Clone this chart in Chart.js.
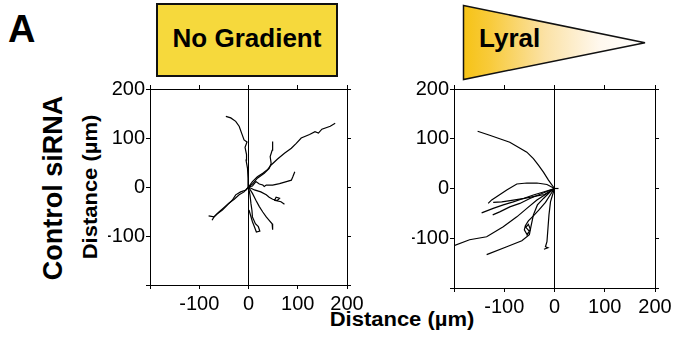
<!DOCTYPE html>
<html>
<head>
<meta charset="utf-8">
<script src="https://cdn.jsdelivr.net/npm/chart.js@4.4.0/dist/chart.umd.min.js"></script>
<style>
  body { margin: 0; width: 673px; height: 347px; position: relative; overflow: hidden; background: #fff;
    font-family: 'Liberation Sans', Arial, sans-serif; color: #000; }
  .lbl { position: absolute; white-space: nowrap; line-height: 1; font-weight: bold; }
  canvas { position: absolute; }
</style>
</head>
<body>
<div class="lbl" style="left:8px;top:10px;font-size:38px;">A</div>
<div style="position:absolute;left:156px;top:3px;width:182px;height:74px;box-sizing:border-box;border:2px solid #111;background:#F6D93C;"></div>
<div class="lbl" style="left:156px;top:24.5px;width:182px;text-align:center;font-size:26px;">No Gradient</div>
<svg style="position:absolute;left:0;top:0" width="673" height="90">
  <defs>
    <linearGradient id="lyralFill" x1="0" y1="0" x2="1" y2="0">
      <stop offset="0" stop-color="#F6C316"/>
      <stop offset="0.15" stop-color="#F8CB3C"/>
      <stop offset="0.45" stop-color="#FBE2A6"/>
      <stop offset="0.75" stop-color="#FFF8EE"/>
      <stop offset="1" stop-color="#FFFFFF"/>
    </linearGradient>
  </defs>
  <polygon points="463.5,5.5 645,42.7 463.5,79.5" fill="url(#lyralFill)" stroke="#111" stroke-width="1.5"/>
</svg>
<div class="lbl" style="left:479px;top:24.5px;font-size:26px;">Lyral</div>
<div class="lbl" style="left:53px;top:187.5px;font-size:27px;transform:translate(-50%,-50%) rotate(-90deg);">Control siRNA</div>
<div class="lbl" style="left:90px;top:187px;font-size:20px;transform:translate(-50%,-50%) rotate(-90deg) scaleX(1.1);">Distance (µm)</div>
<div class="lbl" style="left:402px;top:319px;font-size:20px;transform:translate(-50%,-50%) scaleX(1.1);">Distance (µm)</div>

<canvas id="noGradientChart" width="266" height="247" style="left:108px;top:72px"></canvas>
<canvas id="lyralChart" width="270" height="250" style="left:412px;top:72px"></canvas>

<script>
// cell tracks, x/y distance in µm from the start point
const tickValues = [-200, -100, 0, 100, 200];

// No Gradient panel
const ngTrack1 = [[0, 0], [-1, 18], [-2, 38], [-5, 55], [-4, 66], [-7, 81], [-3, 92], [-9, 96], [-14, 110], [-19, 124], [-26, 134], [-36, 141], [-46, 144]];
const ngTrack2 = [[0, 0], [8, 11], [18, 21], [29, 28], [39, 36], [46, 45], [59, 57], [73, 69], [87, 79], [97, 89], [107, 100], [124, 107], [135, 113], [142, 110], [149, 118], [166, 124], [176, 130]];
const ngTrack3 = [[0, 0], [8, 6], [18, 18], [32, 28], [42, 38], [46, 48], [44, 62], [48, 75], [49, 93]];
const ngTrack4 = [[0, 0], [8, 2], [15, 11], [22, 6], [29, 4], [32, 1], [36, 4], [49, 4], [63, 7], [77, 11], [87, 14], [90, 21], [94, 31]];
const ngTrack5 = [[0, 0], [12, -6], [25, -10], [36, -16], [42, -21], [49, -25], [59, -27], [63, -23], [56, -21], [53, -27], [66, -30], [73, -35]];
const ngTrack6 = [[0, 0], [8, -13], [15, -27], [22, -40], [29, -51], [36, -61], [42, -68], [48, -75], [49, -87]];
const ngTrack7 = [[0, 0], [3, -16], [5, -34], [7, -48], [8, -61], [14, -75], [20, -81], [23, -90], [16, -92], [12, -81], [8, -71], [1, -47]];
const ngTrack8 = [[0, 0], [-9, -10], [-19, -16], [-29, -25], [-40, -33], [-50, -42], [-60, -51], [-70, -61], [-74, -68]];
const ngTrack9 = [[0, 0], [-5, -6], [-16, -10], [-26, -16], [-33, -27], [-43, -37], [-53, -47], [-64, -55], [-70, -61], [-81, -59]];

// Lyral panel
const lyTrack1 = [[0, 0], [-12, 17], [-22, 33], [-32, 47], [-42, 60], [-55, 73], [-72, 83], [-89, 93], [-109, 100], [-129, 107], [-153, 115]];
const lyTrack2 = [[0, 0], [-15, -10], [-35, -23], [-55, -40], [-75, -57], [-102, -77], [-135, -97], [-169, -103], [-200, -115]];
const lyTrack3 = [[0, 0], [-15, 8], [-35, 11], [-55, 11], [-75, 9], [-95, -3], [-110, -13], [-125, -23], [-132, -30]];
const lyTrack4 = [[0, 0], [-22, -7], [-42, -13], [-62, -20], [-82, -27], [-102, -33], [-122, -40], [-145, -49]];
const lyTrack5 = [[0, 0], [-25, -10], [-49, -20], [-69, -30], [-89, -37], [-109, -47], [-123, -53]];
const lyTrack6 = [[0, 0], [-20, -12], [-40, -16], [-60, -20], [-85, -24], [-105, -27], [-122, -28]];
const lyTrack7 = [[0, 0], [-8, -12], [-18, -28], [-30, -42], [-42, -55], [-52, -65], [-58, -75], [-60, -83], [-55, -92], [-50, -86], [-57, -78], [-52, -72], [-48, -82], [-55, -95]];
const lyTrack8 = [[0, 0], [-9, -7], [-22, -20], [-34, -33], [-42, -53], [-47, -77], [-50, -93], [-65, -105], [-95, -117], [-135, -133]];
const lyTrack9 = [[0, 0], [-8, -27], [-11, -53], [-13, -80], [-15, -107], [-18, -117], [-13, -119], [-21, -122]];
const lyTrack10 = [[0, 0], [8, 0]];

const noGradientTracks = [ngTrack1, ngTrack2, ngTrack3, ngTrack4, ngTrack5, ngTrack6, ngTrack7, ngTrack8, ngTrack9];
const lyralTracks = [lyTrack1, lyTrack2, lyTrack3, lyTrack4, lyTrack5, lyTrack6, lyTrack7, lyTrack8, lyTrack9, lyTrack10];

const tickFont = { family: "'Liberation Sans', Arial, sans-serif", size: 20 };

function makeAxis(position, showLabels, zeroLine, size) {
  const horizontal = position === 'top' || position === 'bottom';
  return {
    type: 'linear',
    position,
    min: tickValues[0],
    max: tickValues[tickValues.length - 1],
    afterBuildTicks: (scale) => { scale.ticks = tickValues.map((v) => ({ value: v })); },
    ticks: {
      display: showLabels,
      color: '#000',
      font: tickFont,
      padding: horizontal ? 3 : 1,
      maxRotation: 0,
      // the -200 corner is not labelled
      callback: (v) => (v === tickValues[0] ? '' : v),
    },
    grid: {
      drawOnChartArea: zeroLine,
      color: (ctx) => (ctx.tick && ctx.tick.value === 0 ? '#000' : 'rgba(0,0,0,0)'),
      tickColor: '#000',
      tickLength: 4,
      lineWidth: 1,
    },
    border: { display: true, color: '#000', width: 1 },
    afterFit: (scale) => {
      if (horizontal) scale.height = size; else scale.width = size;
      scale.paddingLeft = 0;
      scale.paddingRight = 0;
      scale.paddingTop = 0;
      scale.paddingBottom = 0;
    },
  };
}

function drawTracks(canvasId, tracks) {
  const ctx = document.getElementById(canvasId).getContext('2d');
  return new Chart(ctx, {
    type: 'scatter',
    data: {
      datasets: tracks.map((t) => ({
        data: t.map((p) => ({ x: p[0], y: p[1] })),
        showLine: true,
        borderColor: '#000',
        borderWidth: 1.2,
        pointRadius: 0,
        tension: 0,
      })),
    },
    options: {
      responsive: false,
      animation: false,
      layout: { padding: { top: 12, right: 22, left: 0, bottom: 0 } },
      scales: {
        x: makeAxis('bottom', true, true, 34),
        y: makeAxis('left', true, false, 42),
        x2: makeAxis('top', false, false, 5),
        y2: makeAxis('right', false, false, 5),
      },
      plugins: {
        legend: { display: false },
        tooltip: { enabled: false },
      },
    },
  });
}

drawTracks('noGradientChart', noGradientTracks);
drawTracks('lyralChart', lyralTracks);
</script>
</body>
</html>
